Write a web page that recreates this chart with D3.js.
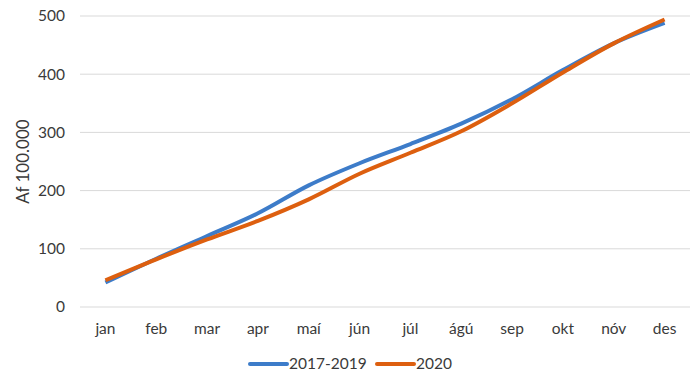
<!DOCTYPE html>
<html>
<head>
<meta charset="utf-8">
<script src="https://cdn.jsdelivr.net/npm/d3@7"></script>
<style>
  body { margin: 0; background: #fff; }
  text { font-family: Lato, "Open Sans", sans-serif; fill: #3a3a3a; }
</style>
</head>
<body>
<div id="chart"></div>
<script>
// months and series values (per 100.000)
const months = ['jan', 'feb', 'mar', 'apr', 'maí', 'jún', 'júl', 'ágú', 'sep', 'okt', 'nóv', 'des'];
const avg2017_2019 = [42, 83, 122, 161, 209, 247, 280, 315, 357, 407, 453, 488];
const y2020 = [46, 82, 116, 148, 185, 229, 265, 302, 350, 403, 453, 494];
const yTicks = [0, 100, 200, 300, 400, 500];

const series = [
  { name: '2017-2019', values: avg2017_2019, color: '#3d7cc9' },
  { name: '2020', values: y2020, color: '#dd5f0f' }
];

const width = 700;
const height = 389;
const margin = { top: 16, right: 10, bottom: 82, left: 80 };

const svg = d3.select('#chart')
  .append('svg')
  .attr('width', width)
  .attr('height', height);

const x = d3.scaleBand()
  .domain(months)
  .range([margin.left, width - margin.right]);

const y = d3.scaleLinear()
  .domain([0, 500])
  .range([height - margin.bottom, margin.top]);

// gridlines
svg.append('g')
  .selectAll('line')
  .data(yTicks)
  .enter()
  .append('line')
  .attr('x1', margin.left)
  .attr('x2', width - margin.right)
  .attr('y1', d => y(d))
  .attr('y2', d => y(d))
  .style('stroke', '#d9d9d9')
  .style('stroke-width', 1);

// y tick labels
svg.append('g')
  .selectAll('text')
  .data(yTicks)
  .enter()
  .append('text')
  .attr('x', 65)
  .attr('y', d => y(d))
  .attr('dy', '0.35em')
  .attr('text-anchor', 'end')
  .style('font-size', '15.5px')
  .text(d => d);

// x tick labels
svg.append('g')
  .selectAll('text')
  .data(months)
  .enter()
  .append('text')
  .attr('x', d => x(d) + x.bandwidth() / 2)
  .attr('y', 329)
  .attr('dy', '0.35em')
  .attr('text-anchor', 'middle')
  .style('font-size', '15.5px')
  .text(d => d);

// y axis title
svg.append('text')
  .attr('transform', 'translate(23,' + (margin.top + (height - margin.bottom - margin.top) / 2) + ') rotate(-90)')
  .attr('text-anchor', 'middle')
  .attr('dy', '0.35em')
  .style('font-size', '17px')
  .text('Af 100.000');

// lines
const line = d3.line()
  .x((d, i) => x(months[i]) + x.bandwidth() / 2)
  .y(d => y(d))
  .curve(d3.curveCatmullRom.alpha(0.5));

svg.append('g')
  .selectAll('path')
  .data(series)
  .enter()
  .append('path')
  .attr('d', d => line(d.values))
  .style('fill', 'none')
  .style('stroke', d => d.color)
  .style('stroke-width', 4)
  .style('stroke-linejoin', 'round');

// legend
const legendItems = [
  { s: series[0], x: 250 },
  { s: series[1], x: 377 }
];
const legend = svg.append('g')
  .selectAll('g')
  .data(legendItems)
  .enter()
  .append('g')
  .attr('transform', d => 'translate(' + d.x + ',364)');

legend.append('line')
  .attr('x1', 0)
  .attr('x2', 37)
  .style('stroke', d => d.s.color)
  .style('stroke-width', 4)
  .style('stroke-linecap', 'round');

legend.append('text')
  .attr('x', 39)
  .attr('dy', '0.35em')
  .style('font-size', '15.5px')
  .text(d => d.s.name);
</script>
</body>
</html>
